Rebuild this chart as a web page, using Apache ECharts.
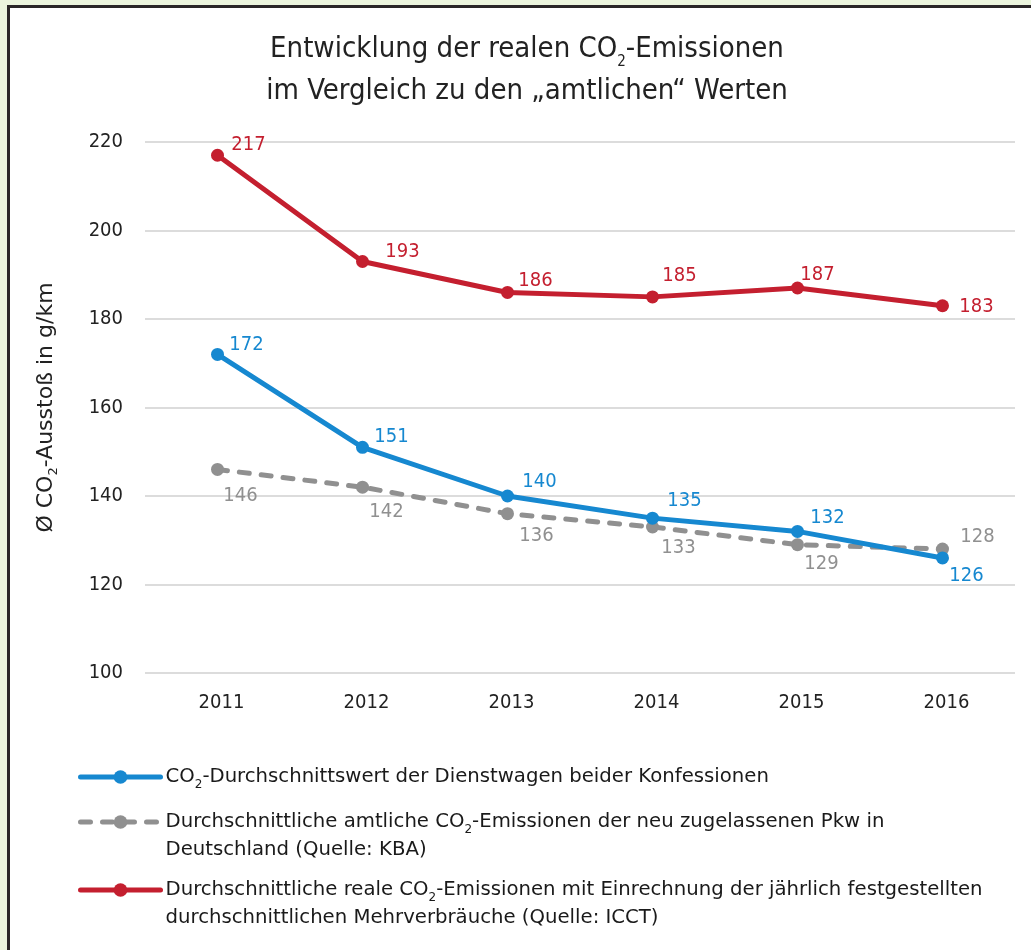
<!DOCTYPE html>
<html>
<head>
<meta charset="utf-8">
<title>CO2-Emissionen</title>
<script src="https://cdn.jsdelivr.net/npm/echarts@6/dist/echarts.min.js"></script>
<style>
  html, body { margin: 0; padding: 0; background: #ebf4dd; }
  .frame {
    position: absolute; left: 7px; top: 5px; right: 0; bottom: 0;
    background: #fff;
    border-top: 3px solid #2a2627;
    border-left: 3px solid #2a2627;
  }
  #chart { position: absolute; left: 0; top: 0; width: 1031px; height: 950px; }
</style>
</head>
<body>
<div class="frame"></div>
<div id="chart"></div>
<script>
// Daten
var years = ['2011', '2012', '2013', '2014', '2015', '2016']
var dienstwagen = [172, 151, 140, 135, 132, 126]
var amtlich = [146, 142, 136, 133, 129, 128]
var real = [217, 193, 186, 185, 187, 183]

var nameBlue = 'Dienstwagen'
var nameGray = 'Amtlich'
var nameRed = 'Real'

var legendText = {}
legendText[nameBlue] = 'CO{sub|2}-Durchschnittswert der Dienstwagen beider Konfessionen'
legendText[nameGray] = 'Durchschnittliche amtliche CO{sub|2}-Emissionen der neu zugelassenen Pkw in\nDeutschland (Quelle: KBA)'
legendText[nameRed] = 'Durchschnittliche reale CO{sub|2}-Emissionen mit Einrechnung der jährlich festgestellten\ndurchschnittlichen Mehrverbräuche (Quelle: ICCT)'

// Lage der Werte-Beschriftungen relativ zum Punkt
var offBlue = [[29, -10], [29, -11], [32, -14], [32, -17], [30, -14], [24, 18]]
var offGray = [[23, 26], [24, 25], [29, 22], [26, 21], [24, 19], [35, -12]]
var offRed = [[31, -10], [40, -10], [28, -12], [27, -21], [20, -13], [34, 1]]

var FONT = '"DejaVu Sans Condensed", "DejaVu Sans", sans-serif'
var FONT_WIDE = '"DejaVu Sans", sans-serif'
var BLUE = '#1688d0'
var GRAY = '#909090'
var RED = '#c41f2f'

function withLabels (values, offsets, color) {
  return values.map(function (v, i) {
    return {
      value: v,
      label: {
        show: true,
        position: 'inside',
        offset: offsets[i],
        color: color,
        fontSize: 20,
        fontFamily: FONT,
        textBorderWidth: 0
      }
    }
  })
}

function legendFor (name, top, padTop, lineType) {
  return {
    data: [name],
    left: 78,
    top: top,
    padding: 0,
    itemWidth: 80,
    itemHeight: 17,
    lineStyle: { width: 5, type: lineType, cap: 'round' },
    formatter: function (n) { return legendText[n] },
    textStyle: {
      color: '#1a1a1a',
      fontSize: 19.7,
      fontFamily: FONT_WIDE,
      lineHeight: 28,
      padding: [padTop, 0, 0, 0],
      rich: {
        sub: { fontSize: 12, fontFamily: FONT_WIDE, color: '#1a1a1a', verticalAlign: 'bottom', lineHeight: 14 }
      }
    }
  }
}

var myChart = echarts.init(document.getElementById('chart'))

var option = {
  animation: false,
  title: {
    text: 'Entwicklung der realen CO{sub|2}-Emissionen\nim Vergleich zu den „amtlichen“ Werten',
    left: 527,
    textAlign: 'center',
    top: 28,
    padding: 0,
    textStyle: {
      color: '#222',
      fontSize: 29,
      fontWeight: 'normal',
      fontFamily: FONT,
      lineHeight: 42,
      rich: {
        sub: { fontSize: 15, fontFamily: FONT, color: '#222', verticalAlign: 'bottom', lineHeight: 16 }
      }
    }
  },
  legend: [
    legendFor(nameBlue, 763, 0, 'solid'),
    legendFor(nameGray, 780, 28, [10, 12]),
    legendFor(nameRed, 848, 28, 'solid')
  ],
  grid: {
    left: 145,
    top: 142,
    width: 870,
    height: 531
  },
  xAxis: {
    type: 'category',
    data: years,
    boundaryGap: true,
    axisLine: { show: false },
    axisTick: { show: false },
    axisLabel: {
      color: '#222',
      fontSize: 20,
      fontFamily: FONT,
      margin: 20,
      padding: [0, 0, 0, 8]
    }
  },
  yAxis: {
    type: 'value',
    min: 100,
    max: 220,
    interval: 20,
    name: 'Ø CO{sub|2}-Ausstoß in g/km',
    nameLocation: 'middle',
    nameGap: 85,
    nameTextStyle: {
      color: '#222',
      fontSize: 22,
      fontFamily: FONT_WIDE,
      lineHeight: 28,
      rich: {
        sub: { fontSize: 13, fontFamily: FONT_WIDE, color: '#222', verticalAlign: 'bottom', lineHeight: 14 }
      }
    },
    axisLine: { show: false },
    axisTick: { show: false },
    axisLabel: {
      color: '#222',
      fontSize: 20,
      fontFamily: FONT,
      margin: 22
    },
    splitLine: {
      lineStyle: { color: '#dcdcdc', width: 2 }
    }
  },
  series: [
    {
      name: nameGray,
      type: 'line',
      symbol: 'circle',
      symbolSize: 13,
      itemStyle: { color: GRAY },
      lineStyle: { color: GRAY, width: 5, type: [10, 12], cap: 'round' },
      data: withLabels(amtlich, offGray, GRAY),
      z: 2
    },
    {
      name: nameBlue,
      type: 'line',
      symbol: 'circle',
      symbolSize: 13,
      itemStyle: { color: BLUE },
      lineStyle: { color: BLUE, width: 5, cap: 'round' },
      data: withLabels(dienstwagen, offBlue, BLUE),
      z: 3
    },
    {
      name: nameRed,
      type: 'line',
      symbol: 'circle',
      symbolSize: 13,
      itemStyle: { color: RED },
      lineStyle: { color: RED, width: 5, cap: 'round' },
      data: withLabels(real, offRed, RED),
      z: 3
    }
  ]
}

myChart.setOption(option)
</script>
</body>
</html>
